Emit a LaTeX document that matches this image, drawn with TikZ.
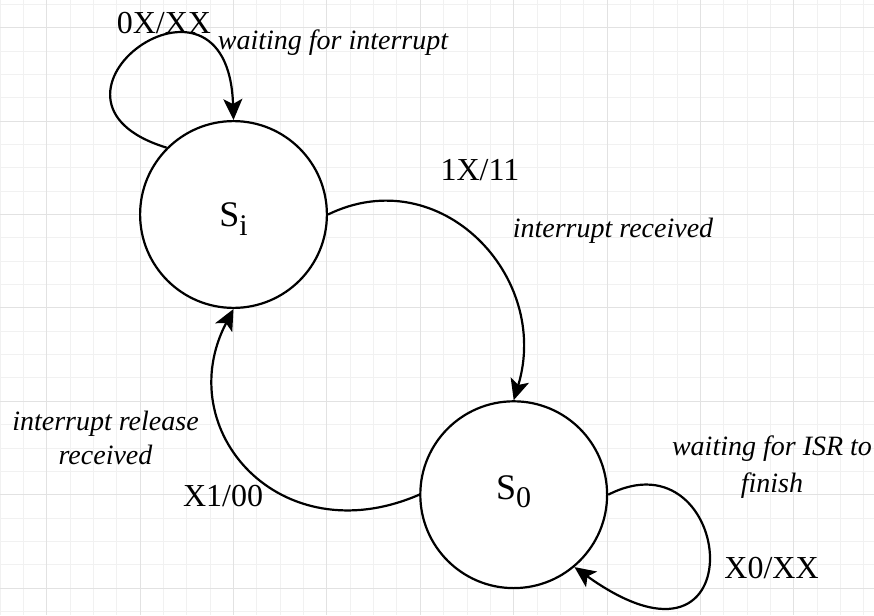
\documentclass[tikz,border=0pt]{standalone}
\usepackage{fontspec}
\setmainfont{Liberation Serif}
\usetikzlibrary{arrows.meta}
\definecolor{gridminor}{RGB}{241,241,241}
\definecolor{gridmajor}{RGB}{226,226,226}
\begin{document}
\begin{tikzpicture}[x=1pt,y=-1pt,
  stnode/.style={circle, draw, line width=2.2pt, fill=white, minimum size=186.8pt,
                 inner sep=0pt, font=\fontsize{36}{42}\selectfont},
  trans/.style={line width=2.2pt, -{Stealth[length=21pt,width=19pt,inset=5pt]}},
  lbl/.style={font=\fontsize{32}{38}\selectfont, anchor=base, inner sep=0pt},
  note/.style={font=\fontsize{28}{34}\selectfont\itshape, inner sep=0pt, align=center}]

% canvas and grid
\path[use as bounding box, fill=white] (0,0) rectangle (874,615);
\foreach \i in {-2,...,35}
  \draw[gridminor, line width=1pt] ({46.7+23.35*\i},0) -- ({46.7+23.35*\i},615);
\foreach \j in {-1,...,25}
  \draw[gridminor, line width=1pt] (0,{27.7+23.35*\j}) -- (874,{27.7+23.35*\j});
\foreach \k in {0,...,8}
  \draw[gridmajor, line width=1pt] ({46.7+93.4*\k},0) -- ({46.7+93.4*\k},615);
\foreach \k in {0,...,6}
  \draw[gridmajor, line width=1pt] (0,{27.7+93.4*\k}) -- (874,{27.7+93.4*\k});

% states
\node[stnode, text height=31pt, text depth=6.6pt] (si) at (233.5,214.5)
  {S\raisebox{-8.5pt}{\fontsize{30}{30}\selectfont i}};
\node[stnode, text height=21pt, text depth=12.4pt] (so) at (513.7,494.7)
  {S\raisebox{-8.5pt}{\fontsize{30}{30}\selectfont 0}};

% transitions
\draw[trans] (si.135) .. controls (10,100) and (228,-60) .. (si.90);
\draw[trans] (si.0) .. controls (440,160) and (551.4,276.2) .. (so.90);
\draw[trans] (so.180) .. controls (280,555) and (170,430) .. (si.270);
\draw[trans] (so.0) .. controls (735,430) and (760,700) .. (so.-50);

% transition labels
\node[lbl] (l1) at (164,33.3) {0X/XX};
\node[note, anchor=base] (n1) at (333,50) {waiting for interrupt};
\node[lbl] (l2) at (480,180) {1X/11};
\node[note, anchor=base] (n2) at (613,237) {interrupt received};
\node[lbl] (l3) at (223,506.7) {X1/00};
\node[note] (n3) at (105.5,438) {interrupt release\\received};
\node[lbl] (l4) at (771.5,578.3) {X0/XX};
\node[note] (n4) at (772,467) {waiting for ISR to\\[3pt]finish};
\end{tikzpicture}
\end{document}
